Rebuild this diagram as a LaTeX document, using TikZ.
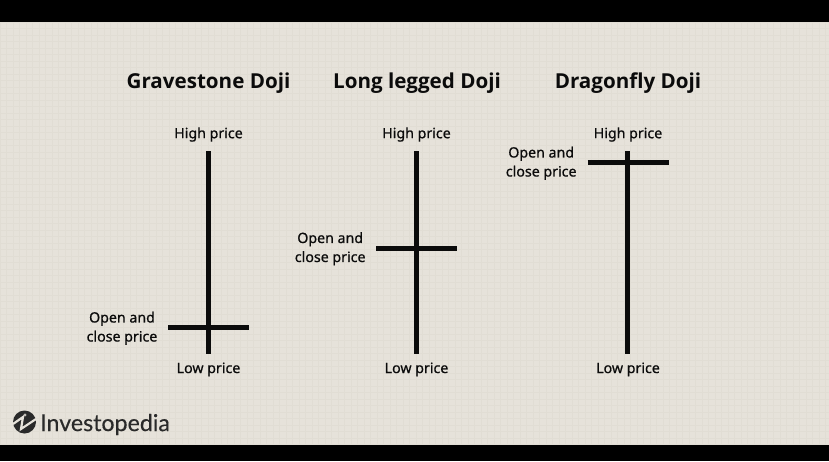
\documentclass[tikz,border=0pt]{standalone}
\usepackage{fontspec}
\setmainfont{Noto Sans}
\newfontfamily\titlefont{Open Sans}
\newfontfamily\labelfont[FakeBold=0.7]{Noto Sans}
\newfontfamily\logofont[FakeBold=0.3]{Lato}
\definecolor{paper}{HTML}{E6E2DA}
\definecolor{gridline}{HTML}{E1DDD4}
\definecolor{ink}{HTML}{0B0B0B}
\definecolor{logoink}{HTML}{2A2A2A}
\tikzset{
  titletext/.style={font=\titlefont\bfseries\fontsize{20.6}{26}\selectfont, text=ink, inner sep=0pt, anchor=center},
  labeltext/.style={font=\labelfont\fontsize{14.2}{19}\selectfont, text=ink, inner sep=0pt, align=center, anchor=center},
  wick/.style={line width=5pt, draw=ink},
  bar/.style={line width=5.4pt, draw=ink},
}
\begin{document}
\begin{tikzpicture}[x=1pt,y=-1pt]
\useasboundingbox (0,0) rectangle (829,461);
\fill[paper] (0,0) rectangle (829,461);
\foreach \gx in {0,6.5,...,829} \draw[gridline,line width=0.4pt] (\gx,22) -- (\gx,445);
\foreach \gy in {22,28.5,...,445} \draw[gridline,line width=0.4pt] (0,\gy) -- (829,\gy);
\fill[black] (0,0) rectangle (829,22);
\fill[black] (0,445) rectangle (829,461);
% titles
\node[titletext] (t1) at (208.5,83) {Gravestone Doji};
\node[titletext] (t2) at (417,83) {Long legged Doji};
\node[titletext] (t3) at (628,83) {Dragonfly Doji};
% Gravestone
\coordinate (g-h) at (208.6,151); \coordinate (g-l) at (208.6,354);
\coordinate (g-a) at (168,327.5); \coordinate (g-b) at (249,327.5);
\draw[wick] (g-h) -- (g-l);
\draw[bar] (g-a) -- (g-b);
\node[labeltext] (g-high) at (208.5,134.5) {High price};
\node[labeltext] (g-low) at (208.5,369.5) {Low price};
\node[labeltext] (g-oc) at (122,328.3) {Open and\\close price};
% Long legged
\coordinate (m-h) at (416.6,151); \coordinate (m-l) at (416.6,354);
\coordinate (m-a) at (376,248.5); \coordinate (m-b) at (457,248.5);
\draw[wick] (m-h) -- (m-l);
\draw[bar] (m-a) -- (m-b);
\node[labeltext] (m-high) at (416.5,134.5) {High price};
\node[labeltext] (m-low) at (416.5,369.5) {Low price};
\node[labeltext] (m-oc) at (330.2,248.8) {Open and\\close price};
% Dragonfly
\coordinate (d-h) at (627.7,151); \coordinate (d-l) at (627.7,354);
\coordinate (d-a) at (587.5,162.6); \coordinate (d-b) at (668.5,162.6);
\draw[wick] (d-h) -- (d-l);
\draw[bar] (d-a) -- (d-b);
\node[labeltext] (d-high) at (628,134.5) {High price};
\node[labeltext] (d-low) at (628,369.5) {Low price};
\node[labeltext] (d-oc) at (541.2,163.3) {Open and\\close price};
% logo
\fill[logoink] (24.5,422) circle (11.5);
\draw[paper,line width=2.2pt,line join=miter] (13,424) -- (23,417) -- (21,429) -- (36,419);
\fill[paper!80!logoink] (25,415) circle (1.6);
\node[font=\logofont\fontsize{23.2}{28}\selectfont, text=logoink, inner sep=0pt, anchor=west] (logo) at (40,424.5) {Investopedia};
\end{tikzpicture}
\end{document}
